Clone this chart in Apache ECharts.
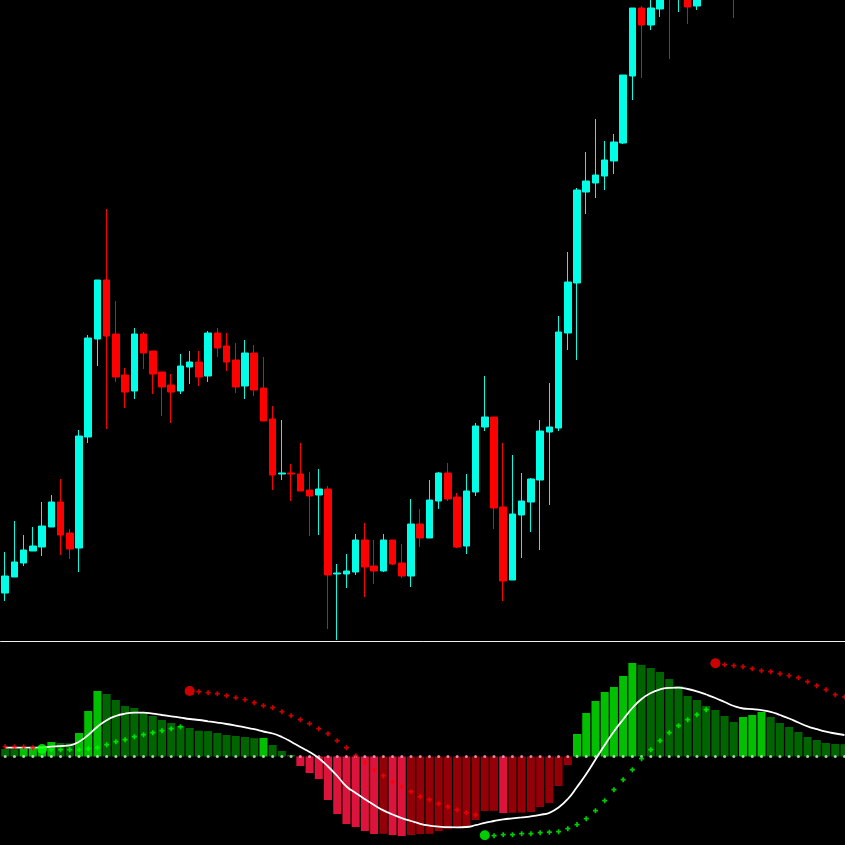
<!DOCTYPE html>
<html><head><meta charset="utf-8">
<script src="https://cdn.jsdelivr.net/npm/echarts@6/dist/echarts.min.js"></script>
<style>html,body{margin:0;padding:0;background:#000;overflow:hidden}#c{width:845px;height:845px}</style>
</head><body><div id="c"></div>
<script>
// Bar labels (92 bars, last one cut by the right edge)
const bars = Array.from({length: 92}, (_, i) => 'B' + (i + 1));

// Price candles: [open, close, low, high] (arbitrary price units)
const ohlc = [
 [47,64,39,88],[63,78,63,119],[77,90,74,105],[89,94,89,113],[93,114,84,138],
 [113,138,113,145],[138,105,85,161],[107,91,81,111],[92,204,68,210],[203,302,197,305],
 [301,360,274,360],[360,304,211,431],[306,263,258,339],[265,248,232,272],[249,306,241,312],
 [306,287,271,308],[289,266,246,289],[268,253,224,268],[255,248,217,266],[249,274,246,286],
 [273,278,256,289],[278,263,254,289],[264,307,258,309],[307,292,283,312],[294,278,269,307],
 [280,253,247,297],[254,287,241,300],[287,250,244,295],[252,219,219,283],[221,165,150,234],
 [166,167,160,220],[167,166,139,176],[166,149,149,197],[150,144,104,168],[145,151,105,171],
 [151,65,11,154],[66,67,0,76],[66,69,52,86],[68,100,65,106],[100,73,43,117],
 [74,69,56,100],[69,100,68,106],[100,76,75,100],[77,64,62,96],[64,116,53,141],
 [116,102,93,131],[102,140,102,160],[139,167,131,168],[167,141,139,177],[143,93,92,147],
 [94,149,86,166],[148,214,144,217],[213,223,209,264],[223,132,111,223],[133,59,39,197],
 [60,126,60,185],[125,139,82,167],[138,161,108,162],[160,209,90,220],[208,213,135,257],
 [212,308,209,324],[307,358,290,388],[357,450,280,452],[448,459,426,488],[457,465,442,521],
 [464,480,450,499],[479,498,466,506],[497,565,496,565],[564,632,540,632],[632,615,562,634],
 [615,632,610,650],[631,655,623,670],[700,655,581,715],[650,690,628,700],[660,633,616,672],
 [634,665,630,680],[665,690,645,700],[690,700,660,715],[700,680,670,720],[690,665,622,700],
 [665,700,655,710],[700,720,690,735],[720,745,710,750],[745,735,725,760],[735,760,728,770],
 [760,780,750,790],[780,770,760,795],[770,790,765,800],[790,800,780,815],[800,790,775,810],
 [790,810,785,820],[810,820,800,830]
];

// Oscillator histogram
const histogram = [
 7.5,7.4,7.7,8.0,10.5,14.5,13.5,13.3,23.5,45.5,
 65.5,62.5,56.5,50.5,48.5,43.5,40.5,36.5,33.5,30.5,
 28.5,25.8,25.4,23.5,21.5,20.5,19.5,18.3,18.6,11.5,
 5.5,1.5,-9.5,-16.5,-22.5,-43.5,-57.5,-67.5,-70.5,-74.5,
 -77.5,-77.3,-78.5,-79.5,-78.5,-77.5,-77.3,-74.5,-72.5,-71.5,
 -70.5,-63.5,-54.5,-54.3,-56.5,-56.3,-56.1,-55.5,-50.5,-46.5,
 -29.5,-8.5,22.5,43.5,55.5,64.5,69.5,80.5,93.5,91.5,
 88.5,84.5,77.5,70.5,60.5,56.5,50.5,46.5,40.5,34.5,
 39.5,41.5,44.5,39.5,33.5,29.5,24.5,19.5,16.5,13.5,
 12.5,12.3
];

// Smoothed oscillator line (white)
const mainLine = [
 8.8,8.8,8.8,8.8,9.0,9.8,10.5,11.2,14.8,21.5,
 29.8,36.3,40.5,42.8,43.8,43.9,42.9,41.5,40.2,38.9,
 37.5,36.5,35.2,33.9,32.5,30.9,29.2,27.3,25.0,23.0,
 19.5,14.8,9.5,4.5,-1.7,-10,-19.5,-30,-36.5,-42.7,
 -48.5,-53.9,-58,-61.7,-64.5,-67.3,-69.1,-70.1,-70.7,-70.8,
 -70.5,-68.7,-66.3,-64.5,-62.9,-61.9,-60.9,-59.8,-58.3,-56.3,
 -51,-42.5,-30.5,-17.5,-3,11.5,25,37,48.5,57.5,
 63.5,67.1,68.7,68.8,67.5,65.2,62,58.5,54.5,50.5,
 48,47.3,46.3,44.7,41.5,38,34,30.2,27.3,24.8,
 23,21.5
];

// Trailing signal dots and their side (R = red, above / G = green, below)
const signal = [
 9.8,9.8,9.8,8.8,7.5,6.8,6.8,6.8,6.8,7.8,
 8.8,11.8,14.8,16.8,19.8,21.8,23.8,25.8,27.8,29.8,
 65.5,64.8,63.8,62.8,60.8,58.8,56.8,53.8,50.8,48.8,
 44.8,40.8,36.8,32.8,27.8,22.8,15.8,8.8,0.8,-6.2,
 -13.2,-19.2,-25.2,-30.2,-35.2,-40.2,-43.2,-47.2,-50.2,-53.2,
 -56.2,-58.2,-78.8,-79.2,-78.2,-78.2,-77.2,-77.2,-76.2,-75.7,
 -75.2,-72.2,-68.1,-62.2,-54.2,-44.2,-33.2,-23.2,-13.2,-2.2,
 6.8,15.8,23.8,30.8,36.8,41.8,46.8,93.2,91.8,90.8,
 89.8,87.8,85.8,84.8,82.8,80.8,78.8,74.8,70.8,66.8,
 61.8,59.5
];
const signalSide = [
 'R','R','R','R','G','G','G','G','G','G','G','G','G','G','G','G','G','G','G','G',
 'R','R','R','R','R','R','R','R','R','R','R','R','R','R','R','R','R','R','R','R',
 'R','R','R','R','R','R','R','R','R','R','R','R','G','G','G','G','G','G','G','G',
 'G','G','G','G','G','G','G','G','G','G','G','G','G','G','G','G','G','R','R','R',
 'R','R','R','R','R','R','R','R','R','R','R','R'
];

const BULL = '#00ffe6', BEAR = '#ff0000';
const plus = 'path://M1,0H2V1H3V2H2V3H1V2H0V1H1Z';

const histData = histogram.map((v, i) => {
  const prev = i > 0 ? histogram[i - 1] : v;
  let c;
  if (v >= 0) c = v > prev ? '#00c000' : '#006400';
  else c = v < prev ? '#dc143c' : '#940008';
  return {value: v, itemStyle: {color: c}};
});
const zeroDots = histogram.map(v => ({value: 0, itemStyle: {color: v >= 0 ? '#d0f5d0' : '#ffa8cc'}}));
const isStart = signalSide.map((s, i) => i > 0 && s !== signalSide[i - 1]);
const redSmall = signal.map((v, i) => signalSide[i] === 'R' && !isStart[i] ? v : null);
const greenSmall = signal.map((v, i) => signalSide[i] === 'G' && !isStart[i] ? v : null);
const redBig = signal.map((v, i) => signalSide[i] === 'R' && isStart[i] ? v : null);
const greenBig = signal.map((v, i) => signalSide[i] === 'G' && isStart[i] ? v : null);

const chart = echarts.init(document.getElementById('c'), null, {renderer: 'canvas'});
chart.setOption({
  backgroundColor: '#000000',
  animation: false,
  grid: [
    {left: 0.6, top: 0, width: 848.5, height: 641, containLabel: false, outerBoundsMode: 'none'},
    {left: 0.6, top: 642, width: 848.5, height: 203, containLabel: false, outerBoundsMode: 'none'}
  ],
  xAxis: [
    {type: 'category', gridIndex: 0, data: bars, boundaryGap: true,
     axisLine: {show: true, onZero: false, lineStyle: {color: '#f0f0f0', width: 1}},
     axisTick: {show: false}, axisLabel: {show: false}, splitLine: {show: false}},
    {type: 'category', gridIndex: 1, data: bars, boundaryGap: true,
     axisLine: {show: false}, axisTick: {show: false}, axisLabel: {show: false}, splitLine: {show: false}}
  ],
  yAxis: [
    {type: 'value', gridIndex: 0, min: -1, max: 640, show: false, splitLine: {show: false}},
    {type: 'value', gridIndex: 1, min: -88.5, max: 114.5, show: false, splitLine: {show: false}}
  ],
  series: [
    {type: 'candlestick', xAxisIndex: 0, yAxisIndex: 0, data: ohlc, barWidth: 7, clip: true,
     itemStyle: {color: BULL, color0: BEAR, borderColor: BULL, borderColor0: BEAR, borderWidth: 1}},
    {type: 'bar', xAxisIndex: 1, yAxisIndex: 1, data: histData, barWidth: 8, barGap: '-100%'},
    {type: 'scatter', xAxisIndex: 1, yAxisIndex: 1, data: zeroDots, symbol: 'circle', symbolSize: 3, z: 3},
    {type: 'line', xAxisIndex: 1, yAxisIndex: 1, data: mainLine, smooth: true, symbol: 'none',
     lineStyle: {color: '#ffffff', width: 1.8}, z: 4},
    {type: 'scatter', xAxisIndex: 1, yAxisIndex: 1, data: redSmall, symbol: plus, symbolSize: 5,
     itemStyle: {color: '#ff0000'}, z: 5},
    {type: 'scatter', xAxisIndex: 1, yAxisIndex: 1, data: greenSmall, symbol: plus, symbolSize: 5,
     itemStyle: {color: '#00ff00'}, z: 5},
    {type: 'scatter', xAxisIndex: 1, yAxisIndex: 1, data: redBig, symbol: 'circle', symbolSize: 10,
     itemStyle: {color: '#ff0000'}, z: 6},
    {type: 'scatter', xAxisIndex: 1, yAxisIndex: 1, data: greenBig, symbol: 'circle', symbolSize: 10,
     itemStyle: {color: '#00ff00'}, z: 6}
  ]
});
</script></body></html>
